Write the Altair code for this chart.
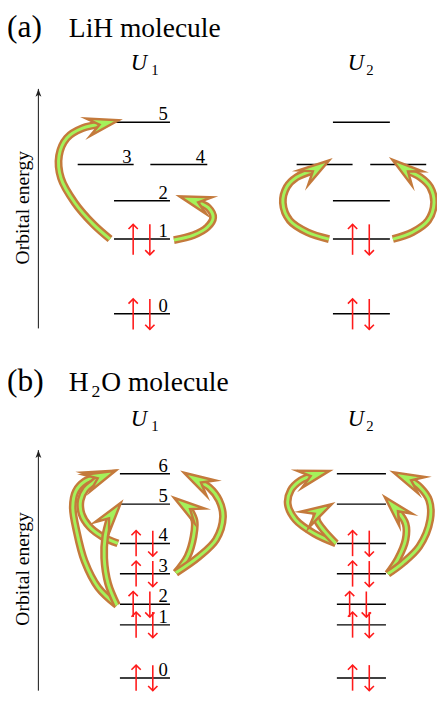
import math
import altair as alt
import pandas as pd

# ---------------- data ----------------
# (a) LiH molecule: orbital index and level height (energy, in page px; smaller = higher)
lih_orbital = [0, 1, 2, 3, 4, 5]
lih_energy = [313, 237, 198, 161, 161, 118]
lih_occupied = [0, 1]

# (b) H2O molecule
h2o_orbital = [0, 1, 2, 3, 4, 5, 6]
h2o_energy = [684, 630, 609, 578, 547, 507, 476]
h2o_occupied = [0, 1, 2, 3, 4]

# curved excitation arrows: shaft control points and arrow-tip position
arrow_ids = ["a_U1_1to5", "a_U1_1to2", "a_U2_1to3", "a_U2_1to4",
             "b_U1_2to6", "b_U1_4to6", "b_U1_2to5", "b_U1_3to5", "b_U1_3to6",
             "b_U2_4to6", "b_U2_4to5", "b_U2_3to5", "b_U2_3to6"]
arrow_pts = [
    [(112, 237), (95, 222), (76, 200), (62, 175), (60, 152), (68, 134), (84, 124), (103, 120)],
    [(177, 238), (197, 233), (211, 225), (217, 215), (212, 205), (200, 199)],
    [(335, 237), (313, 230), (295, 218), (288, 200), (292, 184), (302, 174), (320, 167)],
    [(400, 237), (420, 230), (436, 218), (442, 200), (438, 184), (428, 174), (414, 167)],
    [(119, 610), (100, 592), (86, 565), (78, 535), (74, 510), (77, 494), (86, 484), (99, 479)],
    [(120, 547), (104, 540), (91, 530), (83, 517), (82, 503), (87, 492), (95, 485), (101, 480)],
    [(119, 610), (110, 588), (106, 562), (107, 540), (112, 520)],
    [(179, 577), (191, 560), (197, 540), (198, 524), (192, 511)],
    [(179, 577), (203, 560), (220, 543), (227, 520), (223, 503), (213, 490), (203, 484)],
    [(342, 547), (320, 537), (301, 523), (293, 507), (296, 493), (306, 483), (318, 478)],
    [(342, 547), (330, 534), (323, 524), (322, 516)],
    [(395, 578), (405, 563), (413, 543), (413, 527), (404, 513)],
    [(395, 578), (410, 567), (427, 550), (438, 523), (437, 503), (428, 490), (417, 482)],
]
arrow_tips = [(125, 115), (175, 191), (338, 155), (398, 155),
              (122, 471), (122, 471), (125, 503), (175, 499), (182, 472),
              (343, 471), (345, 503), (392, 500), (397, 473)]

# text
texts_normal = [  # x, y(baseline), text, font size
    (7, 31, "(a)", 32), (70, 31, "LiH molecule", 28),
    (154, 70, "1", 15), (373, 70, "2", 15),
    (7, 392, "(b)", 32), (70, 392, "H", 28), (93, 398, "2", 18), (103, 392, "O molecule", 28),
    (154, 433, "1", 15), (373, 433, "2", 15),
]
texts_italic = [(133, 65, "U"), (354, 65, "U"), (133, 427, "U"), (354, 427, "U")]
axis_titles = [(29, 205, "Orbital energy"), (29, 573, "Orbital energy")]
energy_axes = [(39, 328, 84), (39, 697, 452)]  # x, bottom, top

# ---------------- layout / style ----------------
FONT = "'Liberation Serif', 'Times New Roman', Times, serif"
BROWN = "#C47A3C"
GREEN = "#A4F25A"
RED = "#FF1A1A"
HEAD = "M1,0L-0.75,-0.5L-0.1,0L-0.75,0.5Z"
SPIN_HEAD = "M-1,1L0,0L1,1"
AXIS_HEAD = "M0,0L0.6,1.6L0,1.2L-0.6,1.6Z"

columns = [
    # panel, orbitals, energies, occupied, default span, special spans, labelled, up/down spin reach
    ("a", lih_orbital, lih_energy, lih_occupied, (116, 173), {3: (79, 136), 4: (153, 211)}, True, 15, 16),
    ("a", lih_orbital, lih_energy, lih_occupied, (339, 397), {3: (302, 359), 4: (377, 434)}, False, 15, 16),
    ("b", h2o_orbital, h2o_energy, h2o_occupied, (122, 173), {}, True, 13, 13),
    ("b", h2o_orbital, h2o_energy, h2o_occupied, (343, 393), {}, False, 13, 13),
]

level_rows, label_rows, spin_rows, spin_heads = [], [], [], []
for panel, orbs, ens, occ, span, special, labelled, up, dn in columns:
    for o, e in zip(orbs, ens):
        x1, x2 = special.get(o, span)
        level_rows.append({"x": x1, "x2": x2, "y": e})
        if labelled:
            label_rows.append({"x": x2 - 7, "y": e - 2, "t": str(o)})
        if o in occ:
            c = (x1 + x2) / 2 + (-3 if (panel == "b" and o == 2) else 0)
            spin_rows.append({"x": c - 9, "y": e + dn, "y2": e - up})
            spin_heads.append({"x": c - 9, "y": e - up, "ang": 0})
            spin_rows.append({"x": c + 8, "y": e - up, "y2": e + dn})
            spin_heads.append({"x": c + 8, "y": e + dn, "ang": 180})

shaft_rows, head_rows = [], []
for aid, pts, tip in zip(arrow_ids, arrow_pts, arrow_tips):
    for i, (px, py) in enumerate(pts):
        shaft_rows.append({"id": aid, "i": i, "x": px, "y": py})
    nx, ny = pts[-1]
    ang = math.degrees(math.atan2(tip[1] - ny, tip[0] - nx)) % 360
    head_rows.append({"id": aid, "x": nx, "y": ny, "ang": ang})

levels = pd.DataFrame(level_rows)
labels = pd.DataFrame(label_rows)
spins = pd.DataFrame(spin_rows)
spinh = pd.DataFrame(spin_heads)
shafts = pd.DataFrame(shaft_rows)
heads = pd.DataFrame(head_rows)
tn = pd.DataFrame(texts_normal, columns=["x", "y", "t", "fs"])
ti = pd.DataFrame(texts_italic, columns=["x", "y", "t"])
ta = pd.DataFrame(axis_titles, columns=["x", "y", "t"])
ax = pd.DataFrame(energy_axes, columns=["x", "y", "y2"])

xs = alt.Scale(domain=[8, 445], nice=False, zero=False)
ys = alt.Scale(domain=[8, 693], nice=False, zero=False, reverse=True)


def X(f="x"):
    return alt.X(f"{f}:Q", scale=xs, axis=None)


def Y(f="y"):
    return alt.Y(f"{f}:Q", scale=ys, axis=None)


layers = []
# energy axes
layers.append(alt.Chart(ax).mark_rule(color="#333333", strokeWidth=1.2).encode(
    x=X(), y=Y(), y2=alt.Y2("y2:Q")))
layers.append(alt.Chart(ax).mark_point(shape=AXIS_HEAD, size=100, filled=True, color="#222222",
                                      opacity=1).encode(x=X(), y=alt.Y("y2:Q", scale=ys, axis=None)))
# levels
layers.append(alt.Chart(levels).mark_rule(color="black", strokeWidth=1.5).encode(
    x=X(), x2=alt.X2("x2:Q"), y=Y()))
layers.append(alt.Chart(labels).mark_text(font=FONT, fontSize=19, align="center",
                                          baseline="alphabetic", color="black").encode(
    x=X(), y=Y(), text="t:N"))
# spins
layers.append(alt.Chart(spins).mark_rule(color=RED, strokeWidth=1.6).encode(
    x=X(), y=Y(), y2=alt.Y2("y2:Q")))
layers.append(alt.Chart(spinh).mark_point(shape=SPIN_HEAD, size=90, filled=False, stroke=RED,
                                          strokeWidth=1.6, opacity=1).encode(
    x=X(), y=Y(), angle=alt.Angle("ang:Q", scale=None)))
# excitation arrows
for aid in arrow_ids:
    d = shafts[shafts.id == aid]
    for colr, w in [(BROWN, 8), (GREEN, 3)]:
        layers.append(alt.Chart(d).mark_line(color=colr, strokeWidth=w, interpolate="catmull-rom",
                                             strokeCap="butt").encode(
            x=X(), y=Y(), order="i:Q"))
    layers.append(alt.Chart(heads[heads.id == aid]).mark_point(
        shape=HEAD, size=1300, filled=True, fill=GREEN, stroke=BROWN, strokeWidth=2.5,
        strokeMiterLimit=6, opacity=1).encode(
        x=X(), y=Y(), angle=alt.Angle("ang:Q", scale=None)))
# texts
layers.append(alt.Chart(tn).mark_text(font=FONT, align="left", baseline="alphabetic",
                                      color="black").encode(
    x=X(), y=Y(), text="t:N", size=alt.Size("fs:Q", scale=None)))
layers.append(alt.Chart(ti).mark_text(font=FONT, fontStyle="italic", fontSize=23, align="left",
                                      baseline="alphabetic", color="black").encode(
    x=X(), y=Y(), text="t:N"))
layers.append(alt.Chart(ta).mark_text(font=FONT, fontSize=20, angle=270, align="center",
                                      baseline="alphabetic", color="black").encode(
    x=X(), y=Y(), text="t:N"))

chart = alt.layer(*layers).properties(
    width=437, height=685, padding=0,
    autosize=alt.AutoSizeParams(type="none"),
    background="white",
).configure_view(stroke=None)

chart.save("out.html", embed_options={"renderer": "svg", "actions": False})
